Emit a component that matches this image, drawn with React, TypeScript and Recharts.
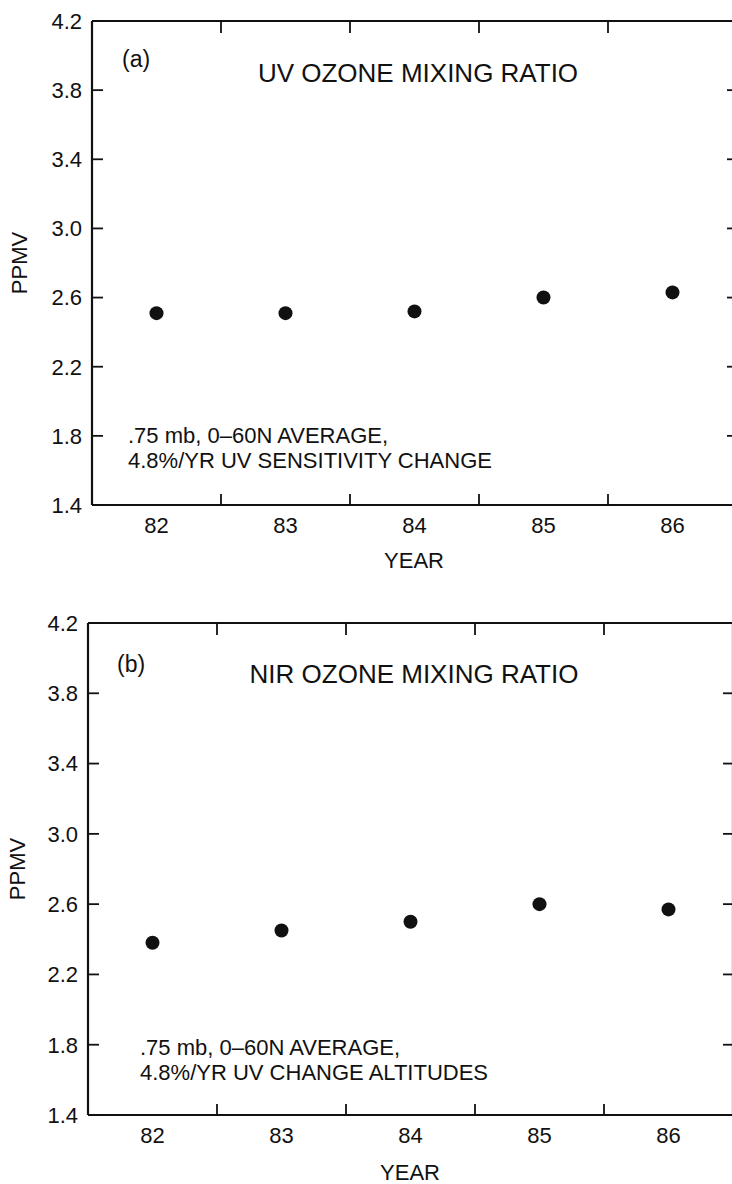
import React from 'react';
import { ScatterChart, Scatter, XAxis, YAxis, Customized } from 'recharts';

const years = [82, 83, 84, 85, 86];
const uvOzone = [2.51, 2.51, 2.52, 2.6, 2.63];
const nirOzone = [2.38, 2.45, 2.5, 2.6, 2.57];
const yearBoundaries = [82.5, 83.5, 84.5, 85.5];
const ppmvTicks = [1.4, 1.8, 2.2, 2.6, 3.0, 3.4, 3.8, 4.2];
const innerPpmvTicks = [1.8, 2.2, 2.6, 3.0, 3.4, 3.8];
const xDomain: [number, number] = [81.5, 86.5];
const yDomain: [number, number] = [1.4, 4.2];

const uvData = years.map((year, i) => ({ year, value: uvOzone[i] }));
const nirData = years.map((year, i) => ({ year, value: nirOzone[i] }));
const bottomTicks = [...years, ...yearBoundaries].sort((a, b) => a - b);

const FONT = '"Liberation Sans", Arial, Helvetica, sans-serif';
const INK = '#111';
const AXIS = { stroke: INK, strokeWidth: 2.2 };

const BottomTick = (props: any) => {
  const { x, y, payload } = props;
  const v = payload.value;
  if (Number.isInteger(v)) {
    return (
      <text x={x} y={y + 28} textAnchor="middle" fontSize={22} fontFamily={FONT} fill={INK}>
        {v}
      </text>
    );
  }
  return <line x1={x} x2={x} y1={y} y2={y - 11} stroke={INK} strokeWidth={1.8} />;
};

const LeftTick = (props: any) => {
  const { x, y, payload } = props;
  return (
    <g>
      <line x1={x} x2={x + 11} y1={y} y2={y} stroke={INK} strokeWidth={1.8} />
      <text x={x - 10} y={y} dy="0.36em" textAnchor="end" fontSize={22} fontFamily={FONT} fill={INK}>
        {Number(payload.value).toFixed(1)}
      </text>
    </g>
  );
};

const TopTick = (props: any) => {
  const { x, y } = props;
  return <line x1={x} x2={x} y1={y} y2={y + 12} stroke={INK} strokeWidth={1.8} />;
};

const RightTick = (props: any) => {
  const { x, y } = props;
  return <line x1={x - 10} x2={x} y1={y} y2={y} stroke={INK} strokeWidth={1.8} />;
};

const Dot = (props: any) => <circle cx={props.cx} cy={props.cy} r={7} fill={INK} />;
const NoDot = () => <g />;

type PanelProps = {
  data: { year: number; value: number }[];
  top: number;
  height: number;
  marginTop: number;
  yAxisWidth: number;
  marginRight: number;
  bottomHeight: number;
  tag: string;
  title: string;
  notes: string[];
  tagPos: [number, number];
  titlePos: [number, number];
  notePos: [number, number];
  yearPos: [number, number];
  ppmvPos: [number, number];
};

const Annotations = (p: PanelProps) => (
  <g fontFamily={FONT} fill={INK}>
    <text x={p.tagPos[0]} y={p.tagPos[1]} fontSize={23}>{p.tag}</text>
    <text x={p.titlePos[0]} y={p.titlePos[1]} fontSize={26} textAnchor="middle">{p.title}</text>
    <text x={p.notePos[0]} y={p.notePos[1]} fontSize={22}>{p.notes[0]}</text>
    <text x={p.notePos[0]} y={p.notePos[1] + 25} fontSize={22}>{p.notes[1]}</text>
    <text x={p.yearPos[0]} y={p.yearPos[1]} fontSize={22} textAnchor="middle">YEAR</text>
    <text
      x={p.ppmvPos[0]}
      y={p.ppmvPos[1]}
      fontSize={22}
      textAnchor="middle"
      transform={`rotate(-90, ${p.ppmvPos[0]}, ${p.ppmvPos[1]})`}
    >
      PPMV
    </text>
  </g>
);

const Panel = (p: PanelProps) => (
  <div style={{ position: 'absolute', left: 0, top: p.top }}>
    <ScatterChart
      width={745}
      height={p.height}
      margin={{ top: p.marginTop, right: p.marginRight, bottom: 0, left: 0 }}
    >
      <XAxis
        type="number"
        dataKey="year"
        domain={xDomain}
        ticks={bottomTicks}
        interval={0}
        allowDataOverflow
        height={p.bottomHeight}
        tickSize={0}
        tickMargin={0}
        tickLine={false}
        axisLine={AXIS}
        tick={BottomTick}
      />
      <XAxis
        xAxisId="top"
        orientation="top"
        type="number"
        dataKey="year"
        domain={xDomain}
        ticks={yearBoundaries}
        interval={0}
        allowDataOverflow
        height={1}
        tickSize={0}
        tickMargin={0}
        tickLine={false}
        axisLine={AXIS}
        tick={TopTick}
      />
      <YAxis
        type="number"
        dataKey="value"
        domain={yDomain}
        ticks={ppmvTicks}
        interval={0}
        allowDataOverflow
        width={p.yAxisWidth}
        tickSize={0}
        tickMargin={0}
        tickLine={false}
        axisLine={AXIS}
        tick={LeftTick}
      />
      <YAxis
        yAxisId="right"
        orientation="right"
        type="number"
        dataKey="value"
        domain={yDomain}
        ticks={innerPpmvTicks}
        interval={0}
        allowDataOverflow
        width={1}
        tickSize={0}
        tickMargin={0}
        tickLine={false}
        axisLine={AXIS}
        tick={RightTick}
      />
      <Scatter
        xAxisId="top"
        yAxisId="right"
        data={p.data}
        dataKey="value"
        shape={NoDot}
        isAnimationActive={false}
      />
      <Scatter data={p.data} dataKey="value" fill={INK} shape={Dot} isAnimationActive={false} />
      <Customized component={<Annotations {...p} />} />
    </ScatterChart>
  </div>
);

export default function App() {
  return (
    <div
      style={{
        position: 'fixed',
        left: 0,
        top: 0,
        width: 732,
        height: 1184,
        overflow: 'hidden',
        background: '#fff',
      }}
    >
      <Panel
        data={uvData}
        top={0}
        height={580}
        marginTop={20}
        yAxisWidth={92}
        marginRight={7}
        bottomHeight={75}
        tag="(a)"
        title="UV OZONE MIXING RATIO"
        notes={['.75 mb, 0\u201360N AVERAGE,', '4.8%/YR UV SENSITIVITY CHANGE']}
        tagPos={[122, 67]}
        titlePos={[418, 82]}
        notePos={[128, 443]}
        yearPos={[414, 568]}
        ppmvPos={[27, 263]}
      />
      <Panel
        data={nirData}
        top={600}
        height={600}
        marginTop={22}
        yAxisWidth={88}
        marginRight={11}
        bottomHeight={85}
        tag="(b)"
        title="NIR OZONE MIXING RATIO"
        notes={['.75 mb, 0\u201360N AVERAGE,', '4.8%/YR UV CHANGE ALTITUDES']}
        tagPos={[117, 72]}
        titlePos={[414, 83]}
        notePos={[140, 455]}
        yearPos={[410, 580]}
        ppmvPos={[25, 269]}
      />
    </div>
  );
}
